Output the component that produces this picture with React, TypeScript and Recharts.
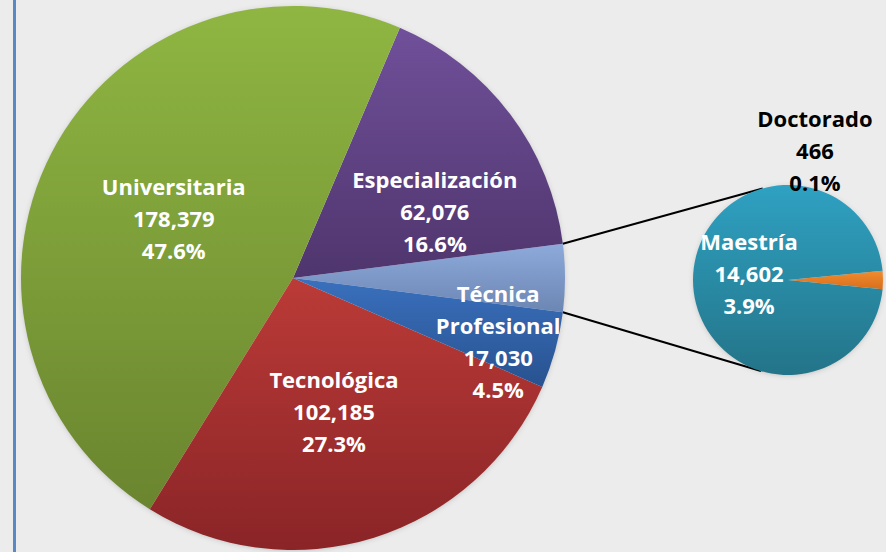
import { PieChart, Pie, Cell } from 'recharts';

// Matrícula por nivel de formación
const categories = ['Universitaria', 'Especialización', 'Técnica Profesional', 'Tecnológica', 'Maestría', 'Doctorado'];
const values = [178379, 62076, 17030, 102185, 14602, 466];

// which categories go to the small pie
const secondaryNames = ['Doctorado', 'Maestría'];
// order of the main pie, counter-clockwise after the "other" slice
const mainOrder = ['Especialización', 'Universitaria', 'Tecnológica', 'Técnica Profesional'];

const W = 886;
const H = 552;
const MAIN = { cx: 293, cy: 278, r: 272 };
const SEC = { cx: 788, cy: 280, r: 95 };
const RAD = Math.PI / 180;

const total = values.reduce((a, b) => a + b, 0);
const valueOf = (n: string) => values[categories.indexOf(n)];
const otherValue = secondaryNames.reduce((s, n) => s + valueOf(n), 0);

const mainData = [{ name: 'Otros', value: otherValue }, ...mainOrder.map((n) => ({ name: n, value: valueOf(n) }))];
const secData = secondaryNames.map((n) => ({ name: n, value: valueOf(n) }));

const mainTotal = mainData.reduce((s, d) => s + d.value, 0);
const otherAngle = (otherValue / mainTotal) * 360;
const docAngle = (valueOf('Doctorado') / otherValue) * 360;

const fills: Record<string, [string, string]> = {
  Otros: ['#8eaadb', '#6c86b3'],
  Especialización: ['#70509a', '#4f356d'],
  Universitaria: ['#8fb642', '#6a852f'],
  Tecnológica: ['#bb3b37', '#8a2427'],
  'Técnica Profesional': ['#3a70bd', '#285290'],
  Maestría: ['#2fa1c2', '#237488'],
  Doctorado: ['#f08c30', '#d86f1c'],
};

// label placement: angle shift from the slice middle, radius as share of the pie radius
const labelPlace: Record<string, { da: number; k: number }> = {
  Universitaria: { da: 0.9, k: 0.49 },
  Especialización: { da: -11.7, k: 0.577 },
  'Técnica Profesional': { da: -1.6, k: 0.789 },
  Tecnológica: { da: -0.2, k: 0.512 },
  Maestría: { da: -10.2, k: 0.417 },
  Doctorado: { da: 78.3, k: 1.398 },
};

const fmt = (v: number) => v.toLocaleString('en-US');
const pct = (v: number) => ((v / total) * 100).toFixed(1) + '%';

const gradId = (n: string) => 'g' + categories.concat('Otros').indexOf(n);

const renderLabel = (props: any) => {
  const { cx, cy, midAngle, outerRadius, name, value } = props;
  const place = labelPlace[name];
  if (!place) return null;
  const a = (midAngle + place.da) * RAD;
  const x = cx + outerRadius * place.k * Math.cos(a);
  const y = cy - outerRadius * place.k * Math.sin(a);
  const lines = [...name.split(' '), fmt(value), pct(value)];
  const lh = 32;
  return (
    <text
      x={x}
      y={y}
      textAnchor="middle"
      fill={name === 'Doctorado' ? '#000' : '#fff'}
      style={{ fontFamily: '"Open Sans", sans-serif', fontWeight: 700, fontSize: 22 }}
    >
      {lines.map((l, i) => (
        <tspan key={i} x={x} y={y + (i - (lines.length - 1) / 2) * lh} dominantBaseline="central">
          {l}
        </tspan>
      ))}
    </text>
  );
};

// tangent point on the small pie from a point on the big one
const tangent = (px: number, py: number, upper: boolean) => {
  const dx = px - SEC.cx;
  const dy = SEC.cy - py;
  const d = Math.hypot(dx, dy);
  const base = Math.atan2(dy, dx);
  const alpha = Math.acos(SEC.r / d);
  const t = upper ? base - alpha : base + alpha;
  return { x: SEC.cx + SEC.r * Math.cos(t), y: SEC.cy - SEC.r * Math.sin(t) };
};

const edge = (deg: number) => ({
  x: MAIN.cx + MAIN.r * Math.cos(deg * RAD),
  y: MAIN.cy - MAIN.r * Math.sin(deg * RAD),
});

export default function App() {
  const top = edge(otherAngle / 2);
  const bot = edge(-otherAngle / 2);
  const tTop = tangent(top.x, top.y, true);
  const tBot = tangent(bot.x, bot.y, false);

  return (
    <div style={{ position: 'fixed', left: 0, top: 0, width: W, height: H, background: '#ececec' }}>
      <div style={{ position: 'absolute', left: 13, top: 0, width: 3, height: H, background: '#5a8ac6' }} />
      <PieChart
        width={W}
        height={H}
        margin={{ top: 0, right: 0, bottom: 0, left: 0 }}
        style={{ position: 'absolute', left: 0, top: 0 }}
      >
        <defs>
          {Object.keys(fills).map((n) => (
            <linearGradient key={n} id={gradId(n)} x1="0" y1="0" x2="0" y2="1">
              <stop offset="0%" stopColor={fills[n][0]} />
              <stop offset="100%" stopColor={fills[n][1]} />
            </linearGradient>
          ))}
          <filter id="shadow" x="-10%" y="-10%" width="120%" height="120%">
            <feDropShadow dx="0" dy="1" stdDeviation="3" floodColor="#000" floodOpacity="0.3" />
          </filter>
        </defs>
        <circle cx={MAIN.cx} cy={MAIN.cy} r={MAIN.r - 2} fill="#ececec" filter="url(#shadow)" />
        <circle cx={SEC.cx} cy={SEC.cy} r={SEC.r - 2} fill="#ececec" filter="url(#shadow)" />
        <line x1={top.x} y1={top.y} x2={tTop.x} y2={tTop.y} stroke="#000" strokeWidth={2} />
        <line x1={bot.x} y1={bot.y} x2={tBot.x} y2={tBot.y} stroke="#000" strokeWidth={2} />
        <Pie
          data={mainData}
          dataKey="value"
          nameKey="name"
          cx={MAIN.cx}
          cy={MAIN.cy}
          outerRadius={MAIN.r}
          startAngle={-otherAngle / 2}
          endAngle={360 - otherAngle / 2}
          stroke="none"
          label={renderLabel}
          labelLine={false}
          isAnimationActive={false}
        >
          {mainData.map((d) => (
            <Cell key={d.name} fill={`url(#${gradId(d.name)})`} />
          ))}
        </Pie>
        <Pie
          data={secData}
          dataKey="value"
          nameKey="name"
          cx={SEC.cx}
          cy={SEC.cy}
          outerRadius={SEC.r}
          startAngle={-docAngle / 2}
          endAngle={360 - docAngle / 2}
          stroke="none"
          label={renderLabel}
          labelLine={false}
          isAnimationActive={false}
        >
          {secData.map((d) => (
            <Cell key={d.name} fill={`url(#${gradId(d.name)})`} />
          ))}
        </Pie>
      </PieChart>
    </div>
  );
}
